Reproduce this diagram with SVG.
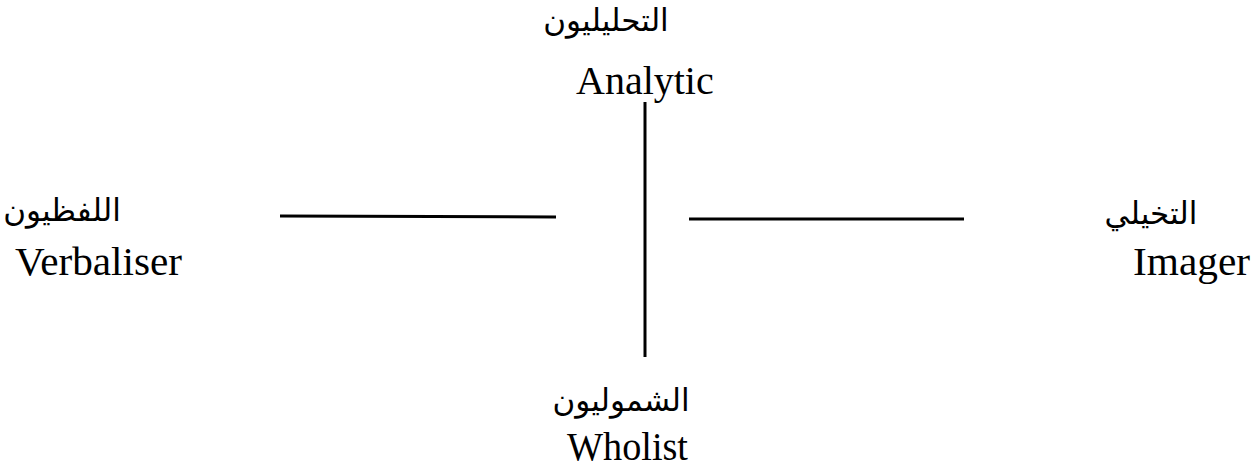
<svg xmlns="http://www.w3.org/2000/svg" width="1251" height="474" viewBox="0 0 1251 474">
<style>
.en{font-family:"Liberation Serif","Times New Roman",serif;font-size:40px;fill:#000}
.ar{font-family:"DejaVu Sans","Noto Sans",sans-serif;font-size:31px;fill:#000;text-anchor:middle}
.ln{stroke:#000;stroke-width:3;fill:none}
</style>
<rect width="1251" height="474" fill="#fff"/>
<g id="connectors">
<line class="ln" x1="280" y1="216" x2="556" y2="217"/>
<line class="ln" x1="689" y1="219" x2="964" y2="219"/>
<line class="ln" x1="645" y1="102" x2="645" y2="357"/>
</g>
<g id="analytic">
<text class="ar" x="606" y="31">التحليليون</text>
<text class="en" x="576" y="94">Analytic</text>
</g>
<g id="verbaliser">
<text class="ar" x="62" y="221">اللفظيون</text>
<text class="en" x="15" y="275" textLength="167" lengthAdjust="spacingAndGlyphs">Verbaliser</text>
</g>
<g id="imager">
<text class="ar" x="1151" y="224">التخيلي</text>
<text class="en" x="1133" y="275" textLength="117" lengthAdjust="spacingAndGlyphs">Imager</text>
</g>
<g id="wholist">
<text class="ar" x="621" y="411">الشموليون</text>
<text class="en" x="567" y="460" textLength="121" lengthAdjust="spacingAndGlyphs">Wholist</text>
</g>
</svg>
